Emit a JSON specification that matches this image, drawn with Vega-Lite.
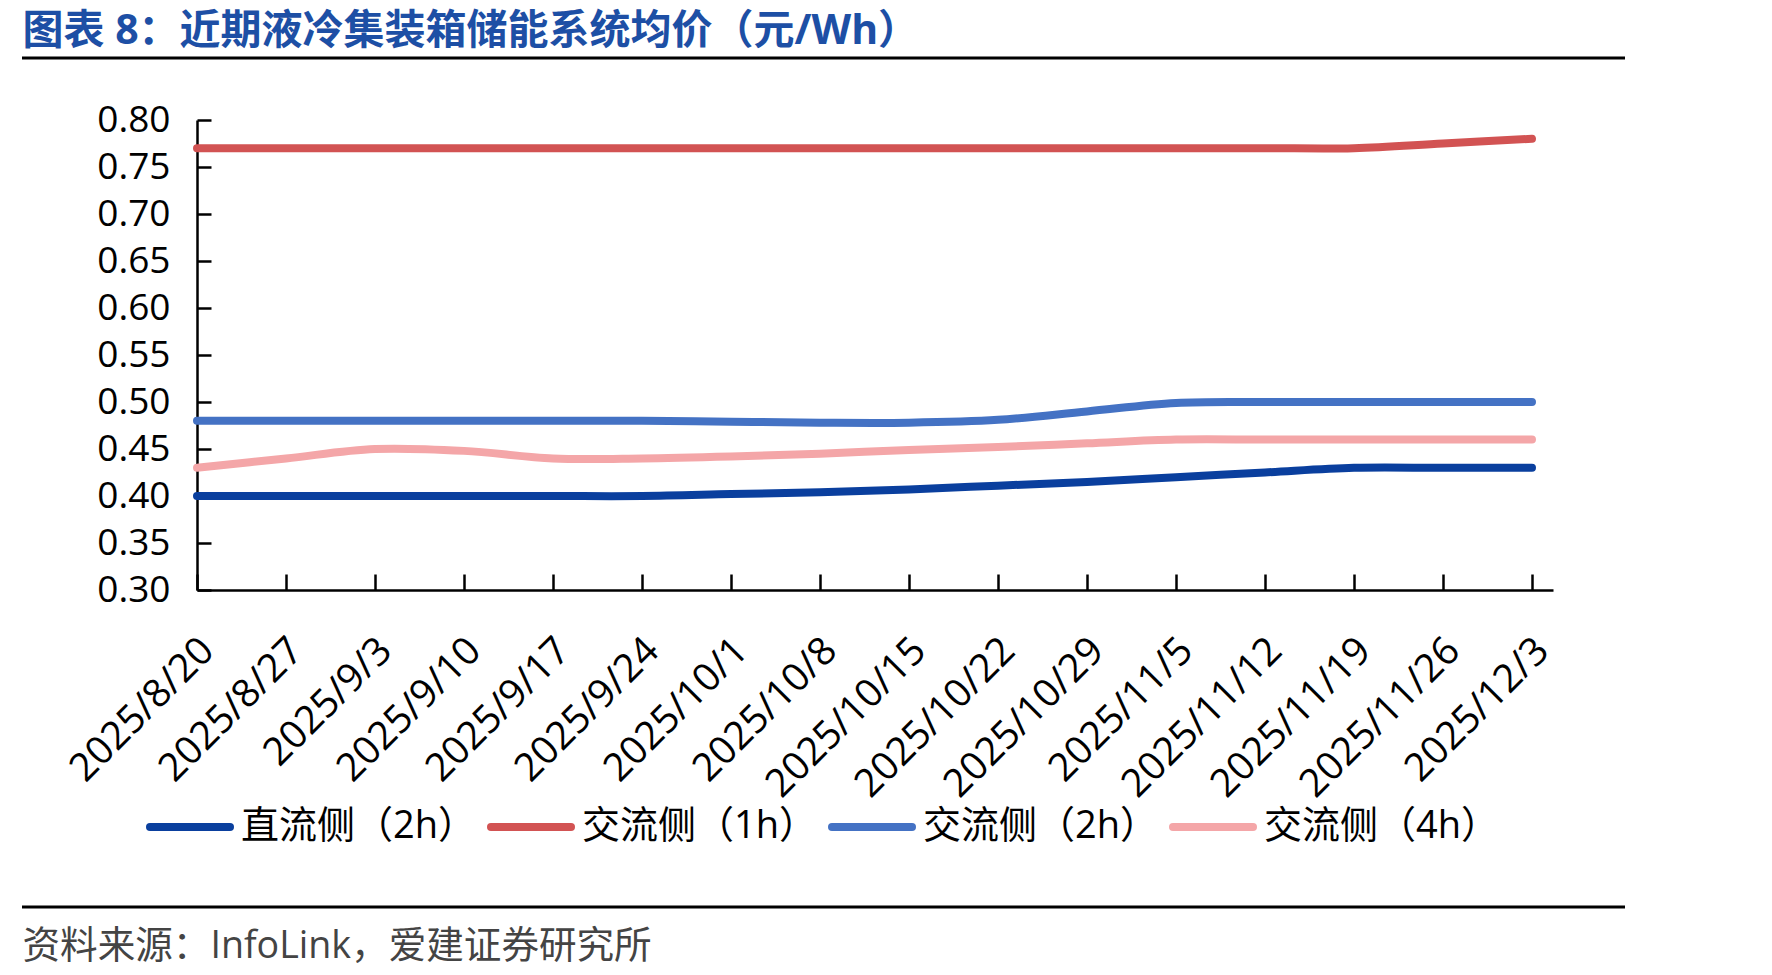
{
  "$schema": "https://vega.github.io/schema/vega-lite/v6.json",
  "width": 1356,
  "height": 470,
  "autosize": "none",
  "padding": {"left": 197, "top": 120, "right": 219, "bottom": 385},
  "background": "white",
  "config": {"view": {"stroke": null}, "font": "Open Sans, Noto Sans CJK SC"},
  "datasets": {
    "prices": [
      {"date": "2025/8/20", "series": "直流侧（2h）", "price": 0.40},
      {"date": "2025/8/27", "series": "直流侧（2h）", "price": 0.40},
      {"date": "2025/9/3", "series": "直流侧（2h）", "price": 0.40},
      {"date": "2025/9/10", "series": "直流侧（2h）", "price": 0.40},
      {"date": "2025/9/17", "series": "直流侧（2h）", "price": 0.40},
      {"date": "2025/9/24", "series": "直流侧（2h）", "price": 0.40},
      {"date": "2025/10/1", "series": "直流侧（2h）", "price": 0.402},
      {"date": "2025/10/8", "series": "直流侧（2h）", "price": 0.404},
      {"date": "2025/10/15", "series": "直流侧（2h）", "price": 0.407},
      {"date": "2025/10/22", "series": "直流侧（2h）", "price": 0.411},
      {"date": "2025/10/29", "series": "直流侧（2h）", "price": 0.415},
      {"date": "2025/11/5", "series": "直流侧（2h）", "price": 0.42},
      {"date": "2025/11/12", "series": "直流侧（2h）", "price": 0.425},
      {"date": "2025/11/19", "series": "直流侧（2h）", "price": 0.43},
      {"date": "2025/11/26", "series": "直流侧（2h）", "price": 0.43},
      {"date": "2025/12/3", "series": "直流侧（2h）", "price": 0.43},

      {"date": "2025/8/20", "series": "交流侧（1h）", "price": 0.77},
      {"date": "2025/8/27", "series": "交流侧（1h）", "price": 0.77},
      {"date": "2025/9/3", "series": "交流侧（1h）", "price": 0.77},
      {"date": "2025/9/10", "series": "交流侧（1h）", "price": 0.77},
      {"date": "2025/9/17", "series": "交流侧（1h）", "price": 0.77},
      {"date": "2025/9/24", "series": "交流侧（1h）", "price": 0.77},
      {"date": "2025/10/1", "series": "交流侧（1h）", "price": 0.77},
      {"date": "2025/10/8", "series": "交流侧（1h）", "price": 0.77},
      {"date": "2025/10/15", "series": "交流侧（1h）", "price": 0.77},
      {"date": "2025/10/22", "series": "交流侧（1h）", "price": 0.77},
      {"date": "2025/10/29", "series": "交流侧（1h）", "price": 0.77},
      {"date": "2025/11/5", "series": "交流侧（1h）", "price": 0.77},
      {"date": "2025/11/12", "series": "交流侧（1h）", "price": 0.77},
      {"date": "2025/11/19", "series": "交流侧（1h）", "price": 0.77},
      {"date": "2025/11/26", "series": "交流侧（1h）", "price": 0.775},
      {"date": "2025/12/3", "series": "交流侧（1h）", "price": 0.78},

      {"date": "2025/8/20", "series": "交流侧（2h）", "price": 0.48},
      {"date": "2025/8/27", "series": "交流侧（2h）", "price": 0.48},
      {"date": "2025/9/3", "series": "交流侧（2h）", "price": 0.48},
      {"date": "2025/9/10", "series": "交流侧（2h）", "price": 0.48},
      {"date": "2025/9/17", "series": "交流侧（2h）", "price": 0.48},
      {"date": "2025/9/24", "series": "交流侧（2h）", "price": 0.48},
      {"date": "2025/10/1", "series": "交流侧（2h）", "price": 0.479},
      {"date": "2025/10/8", "series": "交流侧（2h）", "price": 0.478},
      {"date": "2025/10/15", "series": "交流侧（2h）", "price": 0.478},
      {"date": "2025/10/22", "series": "交流侧（2h）", "price": 0.481},
      {"date": "2025/10/29", "series": "交流侧（2h）", "price": 0.49},
      {"date": "2025/11/5", "series": "交流侧（2h）", "price": 0.499},
      {"date": "2025/11/12", "series": "交流侧（2h）", "price": 0.50},
      {"date": "2025/11/19", "series": "交流侧（2h）", "price": 0.50},
      {"date": "2025/11/26", "series": "交流侧（2h）", "price": 0.50},
      {"date": "2025/12/3", "series": "交流侧（2h）", "price": 0.50},

      {"date": "2025/8/20", "series": "交流侧（4h）", "price": 0.43},
      {"date": "2025/8/27", "series": "交流侧（4h）", "price": 0.44},
      {"date": "2025/9/3", "series": "交流侧（4h）", "price": 0.45},
      {"date": "2025/9/10", "series": "交流侧（4h）", "price": 0.448},
      {"date": "2025/9/17", "series": "交流侧（4h）", "price": 0.44},
      {"date": "2025/9/24", "series": "交流侧（4h）", "price": 0.44},
      {"date": "2025/10/1", "series": "交流侧（4h）", "price": 0.442},
      {"date": "2025/10/8", "series": "交流侧（4h）", "price": 0.445},
      {"date": "2025/10/15", "series": "交流侧（4h）", "price": 0.449},
      {"date": "2025/10/22", "series": "交流侧（4h）", "price": 0.452},
      {"date": "2025/10/29", "series": "交流侧（4h）", "price": 0.456},
      {"date": "2025/11/5", "series": "交流侧（4h）", "price": 0.46},
      {"date": "2025/11/12", "series": "交流侧（4h）", "price": 0.46},
      {"date": "2025/11/19", "series": "交流侧（4h）", "price": 0.46},
      {"date": "2025/11/26", "series": "交流侧（4h）", "price": 0.46},
      {"date": "2025/12/3", "series": "交流侧（4h）", "price": 0.46}
    ]
  },
  "layer": [
    {
      "data": {"values": [{}]},
      "mark": {"type": "rule", "stroke": "#000000", "strokeWidth": 3},
      "encoding": {"x": {"value": -175}, "x2": {"value": 1428}, "y": {"value": -62}}
    },
    {
      "data": {"values": [{}]},
      "mark": {"type": "rule", "stroke": "#000000", "strokeWidth": 3},
      "encoding": {"x": {"value": -175}, "x2": {"value": 1428}, "y": {"value": 787}}
    },
    {
      "data": {"name": "prices"},
      "mark": {"type": "line", "interpolate": "catmull-rom", "strokeWidth": 8, "strokeCap": "round", "strokeJoin": "round"},
      "encoding": {
        "x": {
          "field": "date",
          "type": "ordinal",
          "sort": null,
          "scale": {"type": "point", "padding": 0.118, "align": 0},
          "axis": {
            "domainColor": "#000000",
            "domainWidth": 2.5,
            "tickColor": "#000000",
            "tickWidth": 2.5,
            "tickSize": -16,
            "labelAngle": -45,
            "labelAlign": "right",
            "labelBaseline": "middle",
            "labelFontSize": 39,
            "labelColor": "#000000",
            "labelPadding": 70,
            "labelOffset": 10,
            "labelLimit": 0,
            "labelOverlap": false,
            "labelFlush": false,
            "grid": false,
            "title": "资料来源：InfoLink，爱建证券研究所",
            "titleX": -175,
            "titleY": 367,
            "titleAlign": "left",
            "titleAnchor": "start",
            "titleBaseline": "alphabetic",
            "titleAngle": 0,
            "titleFontSize": 37.6,
            "titleFontWeight": "normal",
            "titleColor": "#444444"
          }
        },
        "y": {
          "field": "price",
          "type": "quantitative",
          "scale": {"domain": [0.3, 0.8], "zero": false, "nice": false},
          "axis": {
            "values": [0.3, 0.35, 0.4, 0.45, 0.5, 0.55, 0.6, 0.65, 0.7, 0.75, 0.8],
            "format": ".2f",
            "domainColor": "#000000",
            "domainWidth": 2.5,
            "tickColor": "#000000",
            "tickWidth": 2.5,
            "tickSize": -14,
            "labelFontSize": 37,
            "labelColor": "#000000",
            "labelPadding": 41,
            "labelOverlap": false,
            "labelFlush": false,
            "grid": false,
            "title": "图表 8：近期液冷集装箱储能系统均价（元/Wh）",
            "titleX": -175,
            "titleY": -77,
            "titleAngle": 0,
            "titleAlign": "left",
            "titleAnchor": "start",
            "titleBaseline": "alphabetic",
            "titleFontSize": 41,
            "titleFontWeight": "bold",
            "titleColor": "#1D4FA5"
          }
        },
        "color": {
          "field": "series",
          "type": "nominal",
          "scale": {
            "domain": ["直流侧（2h）", "交流侧（1h）", "交流侧（2h）", "交流侧（4h）"],
            "range": ["#0A3F9E", "#D25353", "#4472C4", "#F4A6A8"]
          },
          "legend": {
            "orient": "none",
            "legendX": -51,
            "legendY": 663,
            "direction": "horizontal",
            "title": null,
            "symbolType": "stroke",
            "symbolSize": 6400,
            "symbolStrokeWidth": 8,
            "labelFontSize": 38,
            "labelColor": "#000000",
            "labelOffset": 7,
            "labelLimit": 400,
            "columnPadding": -2,
            "padding": 0,
            "encode": {"symbols": {"update": {"strokeCap": {"value": "round"}}}}
          }
        }
      }
    }
  ]
}
